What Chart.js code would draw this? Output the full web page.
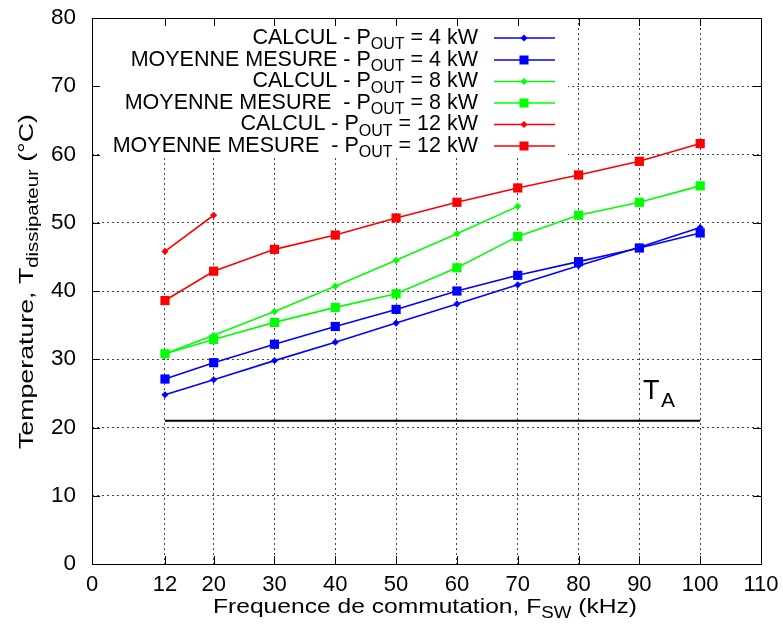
<!DOCTYPE html>
<html>
<head>
<meta charset="utf-8">
<script src="https://cdn.jsdelivr.net/npm/chart.js@4/dist/chart.umd.min.js"></script>
<style>
html,body{margin:0;padding:0;background:#fff;}
#wrap{width:783px;height:634px;}
</style>
</head>
<body>
<div id="wrap"><canvas id="c" width="783" height="634"></canvas></div>
<script>
// ---- Data ----
const freqs = [12, 20, 30, 40, 50, 60, 70, 80, 90, 100];
const calcul4 = [24.8, 27.0, 29.8, 32.5, 35.3, 38.1, 40.9, 43.7, 46.4, 49.3];
const mesure4 = [27.1, 29.5, 32.2, 34.8, 37.3, 40.0, 42.3, 44.3, 46.3, 48.5];
const calcul8 = [30.8, 33.5, 37.0, 40.7, 44.5, 48.4, 52.4];
const mesure8 = [30.8, 32.9, 35.4, 37.6, 39.6, 43.4, 48.0, 51.1, 53.0, 55.4];
const calcul12 = [45.8, 51.1];
const mesure12 = [38.6, 42.9, 46.1, 48.2, 50.7, 53.0, 55.1, 57.0, 59.0, 61.6];
const ambientX = [12, 100];
const ambientY = [21, 21];
const xTicks = [0, 12, 20, 30, 40, 50, 60, 70, 80, 90, 100, 110];
const yTicks = [0, 10, 20, 30, 40, 50, 60, 70, 80];
const legendLabels = [
  ["CALCUL - P", "OUT", " = 4 kW"],
  ["MOYENNE MESURE - P", "OUT", " = 4 kW"],
  ["CALCUL - P", "OUT", " = 8 kW"],
  ["MOYENNE MESURE  - P", "OUT", " = 8 kW"],
  ["CALCUL - P", "OUT", " = 12 kW"],
  ["MOYENNE MESURE  - P", "OUT", " = 12 kW"]
];

const FONT = "'Liberation Sans', Arial, Helvetica, sans-serif";
const pts = (xs, ys) => ys.map((y, i) => ({x: xs[i], y: y}));

function ds(label, ys, color, style) {
  const diamond = style === 'diamond';
  return {
    label: label,
    data: pts(freqs, ys),
    borderColor: color,
    backgroundColor: color,
    borderWidth: 1.6,
    pointStyle: diamond ? 'rectRot' : 'rect',
    pointRadius: diamond ? 3.6 : 6.5,
    pointBorderWidth: 0,
    pointHoverRadius: diamond ? 3.6 : 6.5,
    tension: 0,
    fill: false
  };
}

const datasets = [
  ds(legendLabels[0].join(''), calcul4, '#0000ff', 'diamond'),
  ds(legendLabels[1].join(''), mesure4, '#0000ff', 'square'),
  ds(legendLabels[2].join(''), calcul8, '#00ff00', 'diamond'),
  ds(legendLabels[3].join(''), mesure8, '#00ff00', 'square'),
  ds(legendLabels[4].join(''), calcul12, '#ff0000', 'diamond'),
  ds(legendLabels[5].join(''), mesure12, '#ff0000', 'square'),
  {
    label: 'T_A',
    data: pts(ambientX, ambientY),
    borderColor: '#000000',
    borderWidth: 2,
    pointRadius: 0,
    fill: false
  }
];

function measureSub(ctx, parts, fMain, fSub) {
  ctx.font = fMain;
  const a = ctx.measureText(parts[0]).width;
  ctx.font = fSub;
  const b = ctx.measureText(parts[1]).width;
  ctx.font = fMain;
  const c = ctx.measureText(parts[2]).width;
  return [a, b, c];
}
function drawSub(ctx, parts, x, y, fMain, fSub, drop, sx) {
  sx = sx || 1;
  const w = measureSub(ctx, parts, fMain, fSub);
  ctx.save();
  ctx.translate(x, y);
  ctx.scale(sx, 1);
  ctx.font = fMain;
  ctx.fillText(parts[0], 0, 0);
  ctx.font = fSub;
  ctx.fillText(parts[1], w[0], drop);
  ctx.font = fMain;
  ctx.fillText(parts[2], w[0] + w[1], 0);
  ctx.restore();
  return (w[0] + w[1] + w[2]) * sx;
}

const decor = {
  id: 'decor',
  beforeDatasetsDraw(chart) {
    const ctx = chart.ctx;
    const a = chart.chartArea;
    ctx.save();
    ctx.fillStyle = '#fff';
    ctx.fillRect(100, a.top + 1, 468, 139);
    ctx.restore();
  },
  afterDraw(chart) {
    const ctx = chart.ctx;
    const a = chart.chartArea;
    const xs = chart.scales.x, ys = chart.scales.y;
    ctx.save();
    ctx.strokeStyle = '#000';
    ctx.lineWidth = 1;
    ctx.strokeRect(Math.round(a.left) + 0.5, Math.round(a.top) + 0.5, Math.round(a.right - a.left), Math.round(a.bottom - a.top));
    const tl = 8;
    ctx.beginPath();
    xTicks.forEach(v => {
      if (v === 0 || v === 110) return;
      const px = Math.round(xs.getPixelForValue(v)) + 0.5;
      ctx.moveTo(px, a.bottom); ctx.lineTo(px, a.bottom - tl);
      ctx.moveTo(px, a.top); ctx.lineTo(px, a.top + tl);
    });
    yTicks.forEach(v => {
      if (v === 0 || v === 80) return;
      const py = Math.round(ys.getPixelForValue(v)) + 0.5;
      ctx.moveTo(a.left, py); ctx.lineTo(a.left + tl, py);
      ctx.moveTo(a.right, py); ctx.lineTo(a.right - tl, py);
    });
    ctx.stroke();

    // legend
    const fMain = '21.5px ' + FONT, fSub = '16px ' + FONT;
    const rowY = [38, 60, 81.5, 103, 124.5, 146];
    const styles = datasets.slice(0, 6);
    ctx.textBaseline = 'middle';
    ctx.textAlign = 'left';
    const lsx = 1.0;
    legendLabels.forEach((parts, i) => {
      const w = measureSub(ctx, parts, fMain, fSub);
      const total = (w[0] + w[1] + w[2]) * lsx;
      const y = rowY[i];
      ctx.fillStyle = '#000';
      drawSub(ctx, parts, 478 - total, y, fMain, fSub, 7, lsx);
      const d = styles[i];
      ctx.strokeStyle = d.borderColor;
      ctx.lineWidth = 1.6;
      ctx.beginPath();
      ctx.moveTo(494, y); ctx.lineTo(555, y);
      ctx.stroke();
      ctx.fillStyle = d.borderColor;
      if (d.pointStyle === 'rect') {
        ctx.fillRect(524 - 4.5, y - 4.5, 9, 9);
      } else {
        ctx.beginPath();
        ctx.moveTo(524, y - 3.6); ctx.lineTo(527.6, y); ctx.lineTo(524, y + 3.6); ctx.lineTo(520.4, y);
        ctx.closePath(); ctx.fill();
      }
    });

    // T_A label
    ctx.fillStyle = '#000';
    ctx.textBaseline = 'alphabetic';
    ctx.font = '27px ' + FONT;
    ctx.fillText('T', 643, 399);
    ctx.font = '21px ' + FONT;
    ctx.fillText('A', 661, 407);

    // x-axis title
    const fT = '21px ' + FONT, fTs = '16px ' + FONT;
    const xParts = ['Frequence de commutation, F', 'SW', ' (kHz)'];
    const xw = measureSub(ctx, xParts, fT, fTs);
    const xsx = 424 / (xw[0] + xw[1] + xw[2]);
    ctx.textBaseline = 'middle';
    drawSub(ctx, xParts, 213, 607, fT, fTs, 7, xsx);

    // y-axis title
    const yParts = ['Temperature, T', 'dissipateur', ' (\u00B0C)'];
    const yw = measureSub(ctx, yParts, fT, fTs);
    const ysx = 335 / (yw[0] + yw[1] + yw[2]);
    ctx.translate(27, 449);
    ctx.rotate(-Math.PI / 2);
    drawSub(ctx, yParts, 0, 0, fT, fTs, 7, ysx);
    ctx.restore();
  }
};

const gridColor = (edgeVals) => (c) => (edgeVals.includes(c.tick && c.tick.value) ? 'rgba(0,0,0,0)' : '#444');

new Chart(document.getElementById('c'), {
  type: 'line',
  data: { datasets: datasets },
  options: {
    responsive: false,
    animation: false,
    events: [],
    layout: { padding: { top: 18, right: 22, left: 0, bottom: 0 } },
    plugins: { legend: { display: false }, tooltip: { enabled: false }, title: { display: false } },
    scales: {
      x: {
        type: 'linear',
        min: 0, max: 110,
        afterBuildTicks: (s) => { s.ticks = xTicks.map(v => ({ value: v })); },
        afterFit: (s) => { s.height = 70; s.paddingLeft = 0; s.paddingRight = 0; },
        grid: { color: gridColor([0, 110]), lineWidth: 1, drawTicks: false },
        border: { display: false, dash: [2, 3] },
        ticks: {
          autoSkip: false, maxRotation: 0, padding: 8,
          color: '#000',
          font: { family: FONT, size: 22 },
          callback: (v) => String(v)
        }
      },
      y: {
        type: 'linear',
        min: 0, max: 80,
        afterBuildTicks: (s) => { s.ticks = yTicks.map(v => ({ value: v })); },
        afterFit: (s) => { s.width = 92; s.paddingTop = 0; s.paddingBottom = 0; },
        grid: { color: gridColor([0, 80]), lineWidth: 1, drawTicks: false },
        border: { display: false, dash: [2, 3] },
        ticks: {
          padding: 16,
          color: '#000',
          font: { family: FONT, size: 22.5 },
          callback: (v) => String(v)
        }
      }
    }
  },
  plugins: [decor]
});
</script>
</body>
</html>
